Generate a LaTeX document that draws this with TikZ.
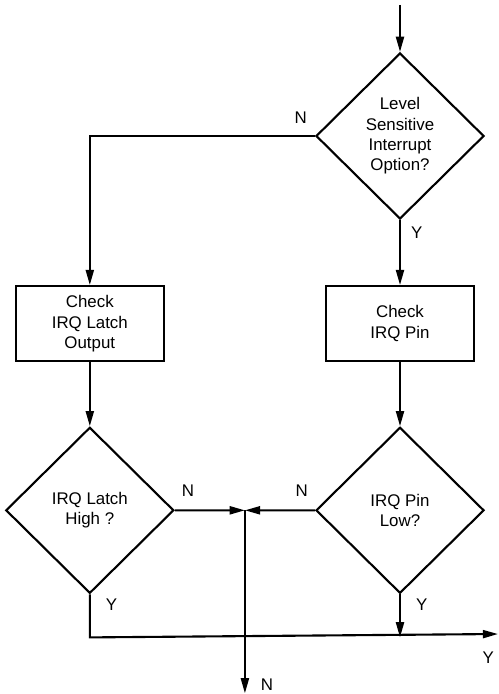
\documentclass[tikz,border=0pt]{standalone}
\usepackage{fontspec}
\setmainfont{Liberation Sans}
\usetikzlibrary{positioning,shapes.geometric,arrows.meta,calc}

\begin{document}
\begin{tikzpicture}[x=0.025cm, y=-0.025cm, line width=1.5pt,
	test/.style={diamond, aspect=1, draw=black, inner sep=0pt, minimum width=4.2cm, minimum height=4.15cm, align=center, font=\fontsize{12}{14.5}\selectfont},
	process/.style={rectangle, draw=black, minimum width=3.7cm, minimum height=1.875cm, align=center, font=\fontsize{12}{14.5}\selectfont},
	lbl/.style={inner sep=0pt, font=\fontsize{12}{14.5}\selectfont},
	arr/.style={-{Triangle[length=3.8mm,width=2mm]}}
	]

	\useasboundingbox (0,0) rectangle (498,694);

	\node (level) [test] at (400,136) {Level\\Sensitive\\Interrupt\\Option?};

		\node (pin) [process, below=1.625cm of level] {Check\\IRQ Pin};
		\node (latch) [process, left=4cm of pin] {Check\\IRQ Latch\\Output};

		\node (pinlow) [test, below=1.6cm of pin] {IRQ Pin\\Low?};
		\node (latchhigh) [test, below=1.6cm of latch] {IRQ Latch\\High ?};

	\coordinate (start) at (400,5);
	\coordinate (join) at ($(latchhigh.east)!0.5!(pinlow.west)$);
	\coordinate (ybend) at ([yshift=-1.075cm]latchhigh.south);
	\coordinate (yout) at (498,634);
	\coordinate (nout) at ([yshift=-4.575cm]join);

	\draw [arr] (start) -- (level.north);
	\draw [arr] (level.west) -| (latch.north);
	\draw [arr] (level.south) -- (pin.north);
	\draw [arr] (latch.south) -- (latchhigh.north);
	\draw [arr] (pin.south) -- (pinlow.north);
	\draw [arr] (latchhigh.east) -- (join);
	\draw [arr] (pinlow.west) -- (join);
	\draw [arr] (join) -- (nout);
	\draw [arr] (latchhigh.south) -- (ybend) -- (yout);
	\draw [arr] (pinlow.south) -- (pinlow.south |- ybend);

	\node [lbl, above left=0.275cm and 0.175cm of level.west] {N};
	\node [lbl, below right=0.15cm and 0.25cm of level.south] {Y};
	\node [lbl, above right=0.33cm and 0.15cm of latchhigh.east] {N};
	\node [lbl, above left=0.33cm and 0.15cm of pinlow.west] {N};
	\node [lbl, below right=0.075cm and 0.375cm of latchhigh.south] {Y};
	\node [lbl, below right=0.075cm and 0.375cm of pinlow.south] {Y};
	\node [lbl, below left=0.42cm and 0.075cm of yout] {Y};
	\node [lbl, above right=0.05cm and 0.375cm of nout] {N};

	\end{tikzpicture}
\end{document}
